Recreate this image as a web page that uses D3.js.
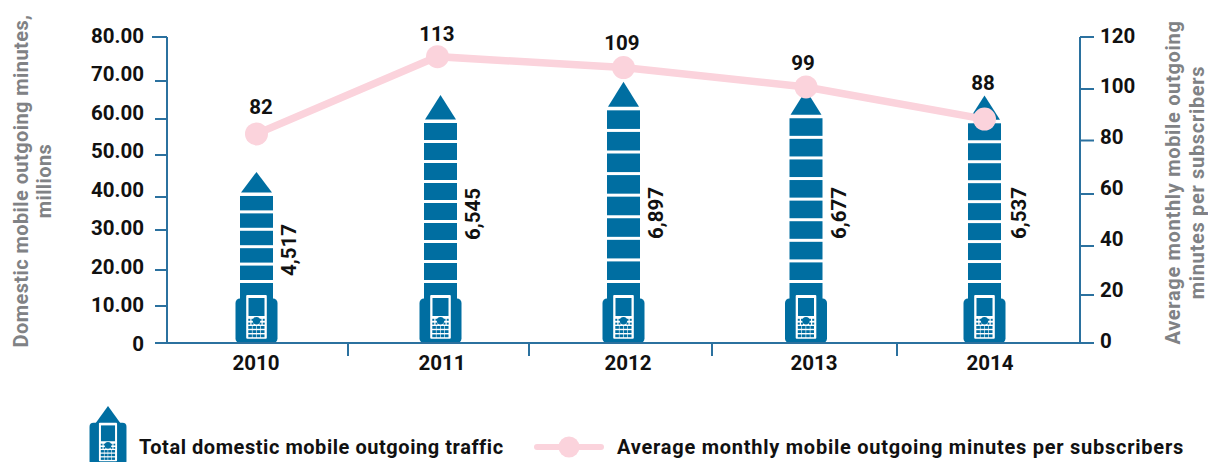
<!DOCTYPE html>
<html><head><meta charset="utf-8">
<script src="https://cdnjs.cloudflare.com/ajax/libs/d3/7.8.5/d3.min.js"></script>
<style>
html,body{margin:0;padding:0;background:#fff;overflow:hidden}
svg{display:block}
text{font-family:Roboto,sans-serif;font-weight:700;fill:#111}
.title{fill:#808285}
</style></head><body>
<svg id="c" width="1208" height="462"></svg>
<script>
// ---- data ----
const years = ["2010","2011","2012","2013","2014"];
const trafficMillions = [45.17,65.45,68.97,66.77,65.37];
const trafficLabels = ["4,517","6,545","6,897","6,677","6,537"];
const tileCounts = [6,9,9,9,9];
const minutesPlotted = [82,112.3,108,100.4,87.8];
const minutesLabels = ["82","113","109","99","88"];
const leftTicks = [0,10,20,30,40,50,60,70,80];
const rightTicks = [0,20,40,60,80,100,120];
const titleLeft = ["Domestic mobile outgoing minutes,","millions"];
const titleRight = ["Average monthly mobile outgoing","minutes per subscribers"];
const legendA = "Total domestic mobile outgoing traffic";
const legendB = "Average monthly mobile outgoing minutes per subscribers";

const BLUE="#006ea1", AXIS="#2b719f", PINK="#fbd3dc";
const NUM="20.5px";
const svg=d3.select("#c");
const baseY=343;

// ---- scales ----
const xMark=d3.scaleOrdinal(years,[256.5,440.5,623.5,806,984.5]);
const xLabel=d3.scaleOrdinal(years,[256,442,628,814,990]);
const sepKeys=["a","b","c","d"];
const xSep=d3.scaleOrdinal(sepKeys,[348,529,712,897]);
const yBar=d3.scaleLinear().domain([0,80]).range([baseY,40]);
const yLeftTick=d3.scaleLinear().domain(leftTicks).range([343,306,270,230,197,155,119,81,37]);
const yLeftLabel=d3.scaleLinear().domain([0,80]).range([344,36]);
const yRightTick=d3.scaleLinear().domain(rightTicks).range([343,295,246,194,140.5,89,37]);
const yRightLabel=d3.scaleLinear().domain([0,120]).range([341,36]);
const yLine=d3.scaleLinear().domain([0,120]).range([baseY,37]);

// ---- phone glyph ----
function phone(g,bodyTop){
  g.append("rect").attr("x",-21).attr("y",bodyTop).attr("width",42).attr("height",-bodyTop).attr("rx",4.5).attr("fill",BLUE);
  g.append("rect").attr("x",-10.3).attr("y",-48).attr("width",20.6).attr("height",43.7).attr("rx",1).attr("fill","#fff");
  g.append("rect").attr("x",-8).attr("y",-45).attr("width",16).attr("height",18).attr("fill",BLUE);
  g.append("circle").attr("cy",-22.3).attr("r",3.7).attr("fill",BLUE);
  [-24.2,-20.4].forEach(y=>[-8.2,-5,3,6.2].forEach(x=>{
    g.append("rect").attr("x",x).attr("y",y).attr("width",2).attr("height",2).attr("fill",BLUE);
  }));
  [-17,-12.8,-8.6].forEach(y=>[-8.2,-4,0.2,4.4].forEach(x=>{
    g.append("rect").attr("x",x).attr("y",y).attr("width",3.6).attr("height",2.8).attr("fill",BLUE);
  }));
}

// ---- towers ----
years.forEach((yr,i)=>{
  const cx=xMark(yr), apex=yBar(trafficMillions[i]), h=baseY-apex;
  const g=svg.append("g");
  const triH=12+0.05*h, tileTop=apex+triH+3.5, lastTop=283, n=tileCounts[i];
  const period=(lastTop-tileTop)/(n-1);
  g.append("path").attr("fill",BLUE)
    .attr("d",d3.line()([[cx,apex],[cx+15.5,apex+triH],[cx-15.5,apex+triH]])+"Z");
  d3.range(n).forEach(k=>{
    const top=tileTop+k*period;
    g.append("rect").attr("x",cx-16.5).attr("y",top).attr("width",33)
      .attr("height",k===n-1?baseY-top-1:period-3).attr("fill",BLUE);
  });
  phone(g.append("g").attr("transform",`translate(${cx},${baseY})`),-44.5);
});

// ---- axes ----
const axL=svg.append("g").attr("transform","translate(167,0)")
  .call(d3.axisLeft(yLeftTick).tickValues(leftTicks).tickFormat("").tickSize(12).tickSizeOuter(0).offset(0));
axL.selectAll(".tick").filter(d=>d===80).select("line").attr("x2",-15);
const axR=svg.append("g").attr("transform","translate(1080,0)")
  .call(d3.axisRight(yRightTick).tickValues(rightTicks).tickFormat("").tickSize(14).tickSizeOuter(0).offset(0));
const axB=svg.append("g").attr("transform",`translate(0,${baseY})`)
  .call(d3.axisBottom(xSep).tickValues(sepKeys).tickFormat("").tickSize(13).tickSizeOuter(0).offset(0));
axB.select(".domain").attr("d",d3.line()([[167,0],[1080,0]]));
[axL,axR,axB].forEach(a=>{
  a.selectAll("line,path").attr("stroke",AXIS).attr("stroke-width",2);
});

function labelAxis(ax){ return g=>{g.call(ax);g.select(".domain").remove();g.selectAll("line").remove();
  g.selectAll("text").attr("fill",null).style("font-family","Roboto,sans-serif").style("font-weight",700).style("font-size",NUM);}; }
svg.append("g").attr("transform","translate(144,0)")
  .call(labelAxis(d3.axisLeft(yLeftLabel).tickValues(leftTicks).tickSize(0).tickPadding(0).offset(0)
    .tickFormat(d=>d===0?"0":d3.format(".2f")(d))));
svg.append("g").attr("transform","translate(1100,0)")
  .call(labelAxis(d3.axisRight(yRightLabel).tickValues(rightTicks).tickSize(0).tickPadding(0).offset(0)));
svg.append("g").attr("transform","translate(0,355)")
  .call(labelAxis(d3.axisBottom(xLabel).tickValues(years).tickSize(0).tickPadding(0).offset(0)));

// ---- rotated value labels ----
const rotX=[289,473,656,839,1019], rotY=[250,214,213,213,213];
trafficLabels.forEach((t,i)=>{
  svg.append("text").attr("transform",`translate(${rotX[i]},${rotY[i]}) rotate(-90)`)
    .attr("text-anchor","middle").attr("dy","0.36em").style("font-size",NUM).text(t);
});

// ---- line ----
const pts=years.map((y,i)=>[xMark(y)-(i===1?3:0),yLine(minutesPlotted[i])]);
svg.append("path").attr("d",d3.line()(pts)).attr("fill","none").attr("stroke",PINK).attr("stroke-width",7.5);
svg.selectAll(".pt").data(pts).enter().append("circle").attr("cx",d=>d[0]).attr("cy",d=>d[1]).attr("r",11.5).attr("fill",PINK);
const topX=[261,437,622,803,983], topY=[107,34,43,63,83];
minutesLabels.forEach((t,i)=>{
  svg.append("text").attr("x",topX[i]).attr("y",topY[i]).attr("dy","0.36em").attr("text-anchor","middle").style("font-size",NUM).text(t);
});

// ---- axis titles ----
[[21,titleLeft[0]],[44,titleLeft[1]]].forEach(([x,t])=>{
  svg.append("text").attr("class","title").attr("transform",`translate(${x},181) rotate(-90)`)
    .attr("text-anchor","middle").attr("dy","0.36em").style("font-size","20px").style("letter-spacing","0.42px").text(t);
});
[[1173,titleRight[0]],[1197,titleRight[1]]].forEach(([x,t])=>{
  svg.append("text").attr("class","title").attr("transform",`translate(${x},182.5) rotate(-90)`)
    .attr("text-anchor","middle").attr("dy","0.36em").style("font-size","20px").style("letter-spacing","0.68px").text(t);
});

// ---- legend ----
const lg=svg.append("g");
lg.append("path").attr("fill",BLUE).attr("d",d3.line()([[108,406],[121,424],[95,424]])+"Z");
phone(lg.append("g").attr("transform","translate(108,465) scale(0.88)"),-48);
lg.append("text").attr("x",139).attr("y",447).attr("dy","0.36em").style("font-size","20px").style("letter-spacing","0.55px").text(legendA);
lg.append("line").attr("x1",537).attr("x2",601).attr("y1",447).attr("y2",447).attr("stroke",PINK).attr("stroke-width",6).attr("stroke-linecap","round");
lg.append("circle").attr("cx",569).attr("cy",447).attr("r",10.5).attr("fill",PINK);
lg.append("text").attr("x",617).attr("y",447).attr("dy","0.36em").style("font-size","20px").style("letter-spacing","0.75px").text(legendB);
</script>
</body></html>
